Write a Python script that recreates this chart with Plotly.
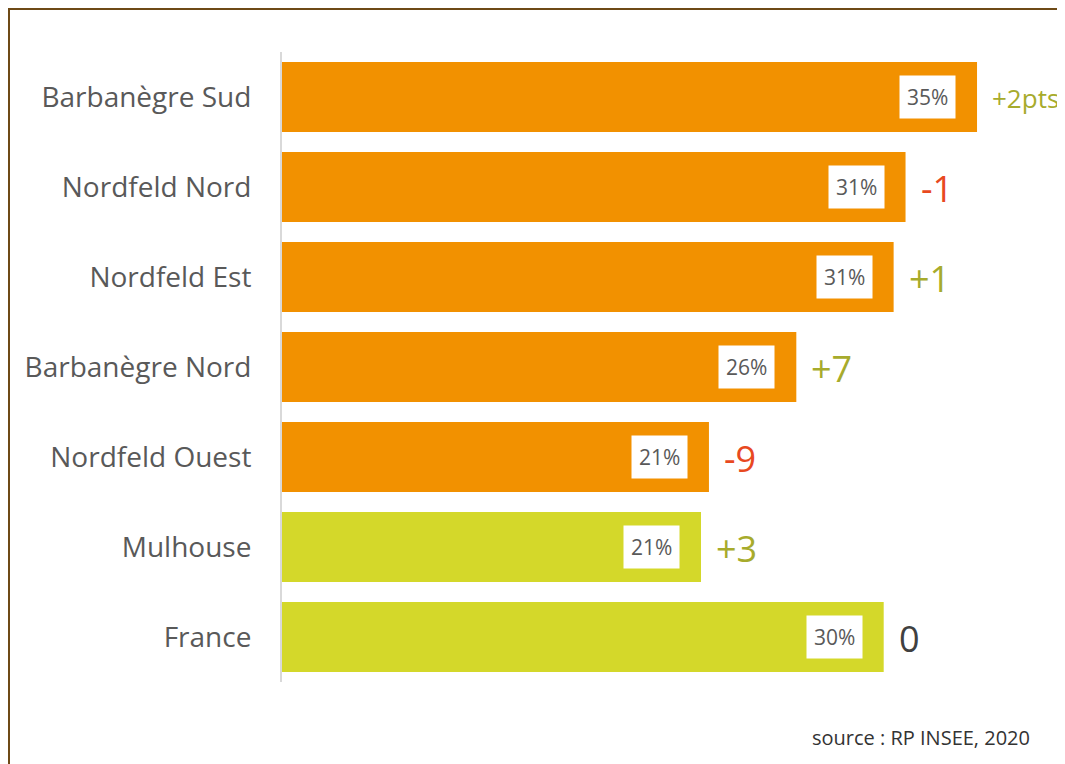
import plotly.graph_objects as go

categories = ["Barbanègre Sud", "Nordfeld Nord", "Nordfeld Est", "Barbanègre Nord",
              "Nordfeld Ouest", "Mulhouse", "France"]
values = [35.0, 31.4, 30.8, 25.9, 21.5, 21.1, 30.3]
value_labels = ["35%", "31%", "31%", "26%", "21%", "21%", "30%"]
changes = ["+2pts", "-1", "+1", "+7", "-9", "+3", "0"]

ORANGE = "#f29100"
LIME = "#d4d82a"
POS = "#a7ab2c"
NEG = "#e8491f"
ZERO = "#404040"

bar_colors = [ORANGE] * 5 + [LIME] * 2

def change_color(c):
    if c.startswith("+"):
        return POS
    if c.startswith("-"):
        return NEG
    return ZERO

# page body has an 8px margin: figure pixel = screen pixel - 8
OFF = 8
W, H = 1065, 764 - OFF
L, T = 282 - OFF, 52 - OFF
B = H - (682 - OFF)
R = 8
pw, ph = W - L - R, H - T - B

def px_x(sx):
    return (sx - OFF - L) / pw

def px_y(sy):
    return (H - B - (sy - OFF)) / ph

fig = go.Figure()
fig.add_trace(go.Bar(
    x=values, y=categories, orientation="h",
    marker=dict(color=bar_colors, line=dict(width=0)),
    hoverinfo="skip",
))

annotations = []
for cat, v, lab, ch in zip(categories, values, value_labels, changes):
    annotations.append(dict(
        x=v, y=cat, xref="x", yref="y", text=lab, showarrow=False,
        xanchor="right", yanchor="middle", xshift=-21,
        bgcolor="white", borderpad=7,
        font=dict(family="Open Sans", size=21, color="#595959"),
    ))
    annotations.append(dict(
        x=v, y=cat, xref="x", yref="y", text=ch, showarrow=False,
        xanchor="left", yanchor="middle", xshift=13, yshift=-1,
        font=dict(family="Open Sans", size=26 if ch.endswith("pts") else 36,
                  color=change_color(ch)),
    ))

annotations.append(dict(
    x=px_x(1032), y=px_y(737), xref="paper", yref="paper",
    text="source : RP INSEE, 2020",
    showarrow=False, xanchor="right", yanchor="middle",
    font=dict(family="Open Sans", size=20, color="#333333"),
))

frame_color = "#6e4a16"
shapes = [
    dict(type="line", xref="paper", yref="paper",
         x0=px_x(9), x1=px_x(9), y0=px_y(9), y1=px_y(780),
         line=dict(color=frame_color, width=2)),
    dict(type="line", xref="paper", yref="paper",
         x0=px_x(8), x1=px_x(1090), y0=px_y(9), y1=px_y(9),
         line=dict(color=frame_color, width=2)),
]

fig.update_layout(
    width=W, height=H,
    margin=dict(l=L, r=R, t=T, b=B, pad=0),
    paper_bgcolor="white", plot_bgcolor="white",
    showlegend=False,
    bargap=0.222,
    annotations=annotations,
    shapes=shapes,
    xaxis=dict(range=[0, 39.43], visible=False, fixedrange=True),
    yaxis=dict(
        categoryorder="array", categoryarray=categories[::-1],
        showline=True, linecolor="#d9d9d9", linewidth=2,
        showgrid=False, zeroline=False, ticks="",
        ticklabelstandoff=23,
        tickfont=dict(family="Open Sans", size=28, color="#595959"),
        fixedrange=True,
    ),
)

fig.write_html("out.html")
